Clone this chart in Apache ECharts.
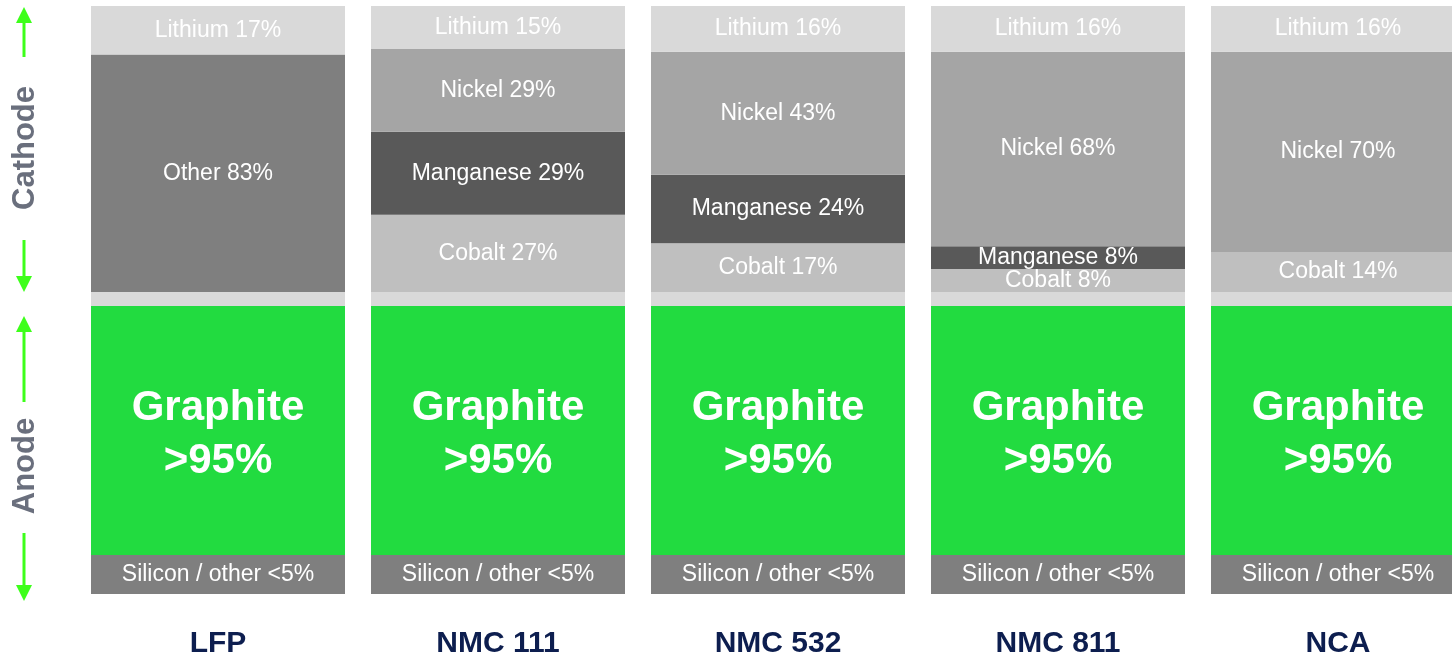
<!DOCTYPE html>
<html>
<head>
<meta charset="utf-8">
<title>Battery cathode / anode composition</title>
<script src="https://cdn.jsdelivr.net/npm/echarts@6/dist/echarts.min.js"></script>
<style>
    html, body { margin: 0; padding: 0; background: #fff; overflow: hidden; }
    /* last bar runs past the right edge in the original, so the canvas is a bit wider than the page */
    #chart_content { width: 1478px; height: 659px; }
</style>
</head>
<body>
<div id="chart_content"></div>
<script>
// chemistries (x categories)
var categories = ['LFP', 'NMC 111', 'NMC 532', 'NMC 811', 'NCA'];

// cathode shares, % (null = not part of this chemistry)
var lithiumPct   = [17, 15, 16, 16, 16];
var otherPct     = [83, null, null, null, null];
var nickelPct    = [null, 29, 43, 68, 70];
var manganesePct = [null, 29, 24, 8, null];
var cobaltPct    = [null, 27, 17, 8, 14];

// anode part, drawn shares (graphite >95%, silicon / other <5%) + separator strip
var separatorShare = [4.9, 4.9, 4.9, 4.9, 4.9];
var graphiteShare  = [87.1, 87.1, 87.1, 87.1, 87.1];
var siliconShare   = [13.6, 13.6, 13.6, 13.6, 13.6];

var FONT = "'Liberation Sans', Arial, sans-serif";
var ARROW = '#3dff1a';

function pctLabel(name){
    return {
        show: true,
        position: 'inside',
        color: '#fff',
        fontFamily: FONT,
        fontSize: 23,
        formatter: function(p){ return p.value == null ? '' : name + ' ' + p.value + '%'; }
    };
}

function seg(name, data, color, label){
    return {
        name: name,
        type: 'bar',
        stack: 'cell',
        barWidth: 254,
        data: data,
        itemStyle: { color: color },
        label: label || { show: false },
        emphasis: { disabled: true }
    };
}

function arrowUp(x, tip, end){
    return [
        { type: 'line', shape: { x1: x, y1: tip + 14, x2: x, y2: end }, style: { stroke: ARROW, lineWidth: 3 } },
        { type: 'polygon', shape: { points: [[x, tip], [x - 8, tip + 16], [x + 8, tip + 16]] }, style: { fill: ARROW } }
    ];
}
function arrowDown(x, start, tip){
    return [
        { type: 'line', shape: { x1: x, y1: start, x2: x, y2: tip - 14 }, style: { stroke: ARROW, lineWidth: 3 } },
        { type: 'polygon', shape: { points: [[x, tip], [x - 8, tip - 16], [x + 8, tip - 16]] }, style: { fill: ARROW } }
    ];
}
function sideText(txt, x, y){
    return {
        type: 'text', x: x, y: y, rotation: Math.PI / 2,
        style: { text: txt, fill: '#6a6f7d', font: 'bold 31px ' + FONT, align: 'center', verticalAlign: 'middle' }
    };
}

var chart = echarts.init(document.getElementById('chart_content'));
var option = {
    animation: false,
    grid: { left: 78, right: 0, top: 6, bottom: 65, containLabel: false },
    xAxis: {
        type: 'category',
        data: categories,
        axisLine: { show: false },
        axisTick: { show: false },
        axisLabel: { color: '#0d1e4f', fontFamily: FONT, fontWeight: 'bold', fontSize: 30, margin: 35 }
    },
    yAxis: {
        type: 'value', min: 0, max: 205.6, show: false,
        splitLine: { show: false }
    },
    series: [
        seg('Silicon / other', siliconShare, '#7f7f7f', {
            show: true, position: 'inside', color: '#fff', fontFamily: FONT, fontSize: 23,
            formatter: 'Silicon / other <5%'
        }),
        seg('Graphite', graphiteShare, '#22db40', {
            show: true, position: 'inside', offset: [0, 4], color: '#fff', fontFamily: FONT, fontSize: 42,
            fontWeight: 'bold', lineHeight: 53, formatter: 'Graphite\n>95%'
        }),
        seg('separator', separatorShare, '#d9d9d9'),
        seg('Cobalt', cobaltPct, '#bfbfbf', pctLabel('Cobalt')),
        seg('Manganese', manganesePct, '#595959', pctLabel('Manganese')),
        seg('Nickel', nickelPct, '#a5a5a5', pctLabel('Nickel')),
        seg('Other', otherPct, '#7f7f7f', pctLabel('Other')),
        seg('Lithium', lithiumPct, '#d9d9d9', pctLabel('Lithium'))
    ],
    graphic: [].concat(
        arrowUp(24, 7, 57),
        arrowDown(24, 240, 292),
        arrowUp(24, 316, 402),
        arrowDown(24, 533, 601),
        [sideText('Cathode', 25, 148), sideText('Anode', 25, 466)]
    )
};
chart.setOption(option, true);
window.onresize = function(){
    chart.resize();
};
</script>
</body>
</html>
